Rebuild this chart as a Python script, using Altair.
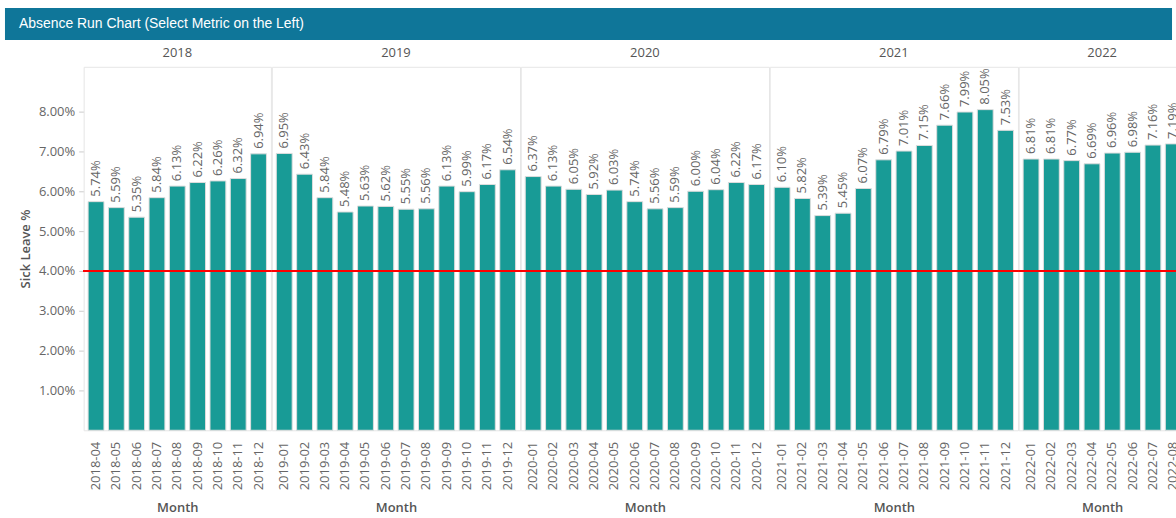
import altair as alt
import pandas as pd

# Monthly sick-leave rate (%), grouped by year
months_2018 = ["2018-04", "2018-05", "2018-06", "2018-07", "2018-08",
               "2018-09", "2018-10", "2018-11", "2018-12"]
sick_2018 = [5.74, 5.59, 5.35, 5.84, 6.13, 6.22, 6.26, 6.32, 6.94]

months_2019 = [f"2019-{m:02d}" for m in range(1, 13)]
sick_2019 = [6.95, 6.43, 5.84, 5.48, 5.63, 5.62, 5.55, 5.56, 6.13, 5.99, 6.17, 6.54]

months_2020 = [f"2020-{m:02d}" for m in range(1, 13)]
sick_2020 = [6.37, 6.13, 6.05, 5.92, 6.03, 5.74, 5.56, 5.59, 6.00, 6.04, 6.22, 6.17]

months_2021 = [f"2021-{m:02d}" for m in range(1, 13)]
sick_2021 = [6.10, 5.82, 5.39, 5.45, 6.07, 6.79, 7.01, 7.15, 7.66, 7.99, 8.05, 7.53]

months_2022 = [f"2022-{m:02d}" for m in range(1, 9)]
sick_2022 = [6.81, 6.81, 6.77, 6.69, 6.96, 6.98, 7.16, 7.19]

target_rate = 4.0
y_ticks = [1, 2, 3, 4, 5, 6, 7, 8]
chart_title = "Absence Run Chart (Select Metric on the Left)"

TEAL = "#189b96"
BANNER = "#0f7699"
FONT = "Open Sans"

rows = []
for months, values in [(months_2018, sick_2018), (months_2019, sick_2019),
                       (months_2020, sick_2020), (months_2021, sick_2021),
                       (months_2022, sick_2022)]:
    for m, v in zip(months, values):
        rows.append({"Year": m[:4], "Month": m, "rate": v / 100})
df = pd.DataFrame(rows)

x_enc = alt.X(
    "Month:N",
    title="Month",
    scale=alt.Scale(paddingInner=0.22, paddingOuter=0.22),
    axis=alt.Axis(labelAngle=-90, labelPadding=11, ticks=False, domain=False,
                  titlePadding=12),
)
y_enc = alt.Y(
    "rate:Q",
    title="Sick Leave %",
    scale=alt.Scale(domain=[0, 0.09125], nice=False),
    axis=alt.Axis(values=[t / 100 for t in y_ticks], format=".2%", domain=False,
                  grid=False, tickColor="#cccccc", tickSize=5, labelPadding=4,
                  titlePadding=6),
)

bars = alt.Chart().mark_bar(color=TEAL, stroke="#dddddd", strokeWidth=1).encode(
    x=x_enc, y=y_enc
)
labels = alt.Chart().mark_text(
    angle=270, align="left", baseline="middle", dx=5,
    font=FONT, fontSize=13, color="#666666"
).encode(x=x_enc, y=y_enc, text=alt.Text("rate:Q", format=".2%"))
target = alt.Chart().mark_rule(color="#ff0000", strokeWidth=2).encode(
    y=alt.datum(target_rate / 100)
)

panels = alt.layer(bars, labels, target).properties(
    width=alt.Step(20.4), height=365
).facet(
    column=alt.Column(
        "Year:N", title=None,
        header=alt.Header(labelFont=FONT, labelFontSize=13, labelColor="#555555",
                          labelPadding=7),
    ),
    data=df,
    spacing=0,
    bounds="flush",
).resolve_scale(x="independent")

# Banner across the top with the chart title
title_df = pd.DataFrame({"title": [chart_title]})
banner = alt.Chart(title_df).mark_rect(color=BANNER).encode(
    x=alt.value(-79), x2=alt.value(1093), y=alt.value(0), y2=alt.value(32)
)
banner_text = alt.Chart(title_df).mark_text(
    align="left", baseline="middle", color="white",
    font="Liberation Sans", fontSize=14
).encode(x=alt.value(-65), y=alt.value(16), text="title:N")
header = alt.layer(banner, banner_text).properties(
    width=1090, height=32, view=alt.ViewBackground(stroke="transparent")
)

chart = alt.vconcat(header, panels, spacing=6).properties(
    padding={"left": 4, "top": 6, "right": -12, "bottom": 0},
    background="white",
).configure_view(
    stroke="#e6e6e6"
).configure_axis(
    labelFont=FONT, titleFont=FONT, labelFontSize=13, titleFontSize=13,
    labelColor="#666666", titleColor="#555555", titleFontWeight=600,
)

chart.save("out.html", embed_options={"renderer": "svg", "actions": False})
